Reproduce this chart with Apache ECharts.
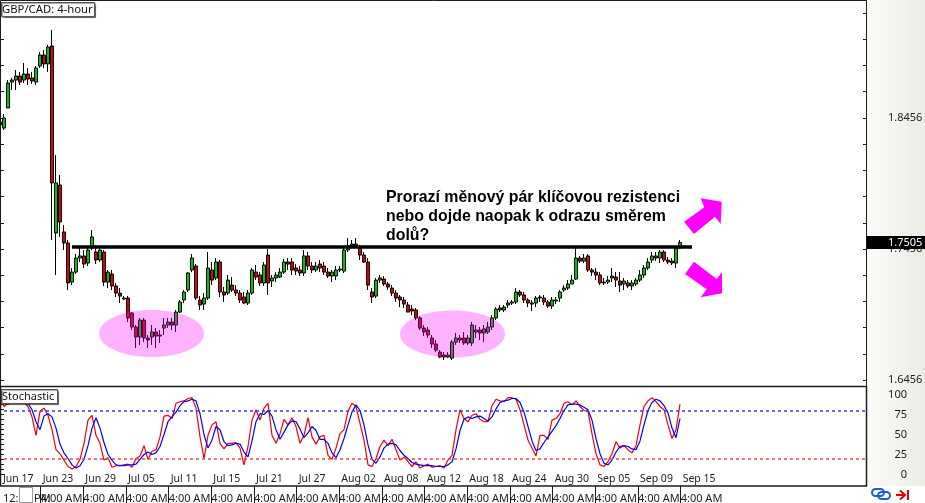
<!DOCTYPE html>
<html><head><meta charset="utf-8">
<style>html,body{margin:0;padding:0;background:#fff}#c{width:925px;height:503px}</style>
<script src="https://cdn.jsdelivr.net/npm/echarts@6/dist/echarts.min.js"></script>
</head><body><div id="c"></div>
<script>
const openP=[1.8402,1.8379,1.8532,1.8730,1.8745,1.8776,1.8745,1.8791,1.8761,1.8730,1.8852,1.8936,1.8868,1.9005,1.7578,1.7944,1.7586,1.7502,1.7204,1.7280,1.7387,1.7403,1.7349,1.7464,1.7433,1.7372,1.7433,1.7204,1.7265,1.7174,1.7120,1.7082,1.7082,1.6968,1.6861,1.6785,1.6914,1.6777,1.6785,1.6823,1.6792,1.6853,1.6876,1.6899,1.6876,1.6975,1.7067,1.7143,1.7296,1.7326,1.7067,1.7036,1.7082,1.7296,1.7235,1.7357,1.7128,1.7120,
1.7181,1.7143,1.7120,1.7090,1.7044,1.7120,1.7280,1.7258,1.7197,1.7410,1.7212,1.7235,1.7242,1.7280,1.7357,1.7357,1.7311,1.7296,1.7273,1.7403,1.7326,1.7296,1.7341,1.7326,1.7280,1.7250,1.7250,1.7296,1.7288,1.7448,1.7479,1.7494,1.7471,1.7410,1.7357,1.7128,1.7097,1.7219,1.7227,1.7189,1.7158,1.7120,1.7090,1.7067,1.7029,1.6998,1.6991,1.6930,1.6853,1.6838,1.6777,1.6731,1.6670,1.6647,1.6632,1.6624,1.6746,1.6777,1.6777,1.6739,1.6739,1.6823,1.6838,1.6815,1.6823,1.6861,1.6930,1.7006,1.6991,1.7029,1.7044,1.7052,1.7128,1.7105,1.7067,1.7044,1.7044,1.7082,1.7082,1.7052,1.7021,1.7059,1.7082,1.7143,1.7158,1.7189,1.7227,1.7387,1.7364,1.7403,1.7296,1.7280,1.7258,1.7197,1.7204,1.7235,1.7242,1.7212,1.7189,1.7197,1.7174,1.7189,1.7219,1.7258,1.7311,1.7372,1.7403,1.7387,1.7433,1.7372,1.7364,1.7349,1.7464];
const closeP=[1.8425,1.8456,1.8722,1.8745,1.8776,1.8730,1.8791,1.8753,1.8738,1.8837,1.8936,1.8868,1.8997,1.7960,1.7960,1.7662,1.7502,1.7197,1.7280,1.7387,1.7403,1.7341,1.7448,1.7548,1.7372,1.7448,1.7204,1.7280,1.7174,1.7120,1.7097,1.7075,1.6930,1.6861,1.6785,1.6914,1.6777,1.6762,1.6823,1.6792,1.6800,1.6876,1.6899,1.6876,1.6975,1.7052,1.7128,1.7273,1.7387,1.7082,1.7029,1.7082,1.7311,1.7219,1.7357,1.7128,1.7105,1.7219,
1.7143,1.7120,1.7067,1.7044,1.7120,1.7296,1.7242,1.7197,1.7334,1.7197,1.7235,1.7258,1.7280,1.7357,1.7341,1.7296,1.7288,1.7273,1.7403,1.7326,1.7296,1.7326,1.7311,1.7280,1.7250,1.7280,1.7296,1.7303,1.7448,1.7479,1.7494,1.7471,1.7410,1.7357,1.7181,1.7090,1.7219,1.7235,1.7189,1.7166,1.7120,1.7082,1.7067,1.7036,1.6975,1.6983,1.6930,1.6853,1.6823,1.6800,1.6731,1.6685,1.6632,1.6632,1.6647,1.6746,1.6777,1.6762,1.6739,1.6777,1.6876,1.6838,1.6815,1.6846,1.6861,1.6930,1.6998,1.6991,1.7013,1.7044,1.7052,1.7128,1.7105,1.7067,1.7044,1.7036,1.7082,1.7090,1.7052,1.7021,1.7067,1.7067,1.7128,1.7158,1.7189,1.7219,1.7387,1.7364,1.7387,1.7296,1.7280,1.7258,1.7197,1.7204,1.7219,1.7250,1.7219,1.7181,1.7212,1.7174,1.7197,1.7219,1.7258,1.7311,1.7357,1.7403,1.7387,1.7433,1.7372,1.7357,1.7349,1.7464,1.7505];
const highP=[1.8456,1.8486,1.8745,1.8761,1.8822,1.8807,1.8875,1.8837,1.8807,1.8852,1.8959,1.8974,1.9013,1.9127,1.8173,1.8021,1.7639,1.7525,1.7311,1.7418,1.7471,1.7448,1.7479,1.7601,1.7487,1.7479,1.7448,1.7296,1.7296,1.7197,1.7158,1.7097,1.7097,1.6975,1.6876,1.6930,1.6930,1.6800,1.6876,1.6853,1.6838,1.6930,1.6930,1.6930,1.6991,1.7067,1.7143,1.7280,1.7418,1.7341,1.7097,1.7120,1.7433,1.7357,1.7387,1.7372,1.7166,1.7258,
1.7242,1.7181,1.7143,1.7128,1.7143,1.7311,1.7334,1.7280,1.7357,1.7456,1.7258,1.7280,1.7311,1.7380,1.7387,1.7387,1.7341,1.7326,1.7448,1.7433,1.7357,1.7357,1.7372,1.7357,1.7311,1.7296,1.7326,1.7326,1.7471,1.7540,1.7525,1.7540,1.7487,1.7433,1.7387,1.7158,1.7235,1.7258,1.7250,1.7204,1.7181,1.7143,1.7105,1.7090,1.7052,1.7029,1.7006,1.6945,1.6876,1.6861,1.6800,1.6762,1.6685,1.6670,1.6670,1.6762,1.6815,1.6800,1.6823,1.6800,1.6899,1.6876,1.6861,1.6876,1.6899,1.6952,1.7013,1.7029,1.7029,1.7067,1.7067,1.7158,1.7143,1.7128,1.7082,1.7067,1.7097,1.7105,1.7105,1.7067,1.7090,1.7090,1.7143,1.7181,1.7219,1.7258,1.7464,1.7403,1.7418,1.7418,1.7311,1.7311,1.7280,1.7235,1.7250,1.7311,1.7280,1.7280,1.7235,1.7219,1.7219,1.7235,1.7296,1.7334,1.7387,1.7433,1.7433,1.7448,1.7448,1.7395,1.7387,1.7479,1.7525];
const lowP=[1.8364,1.8364,1.8532,1.8669,1.8669,1.8707,1.8722,1.8707,1.8715,1.8707,1.8837,1.8837,1.8807,1.7525,1.7258,1.7548,1.7448,1.7143,1.7181,1.7265,1.7357,1.7311,1.7326,1.7448,1.7341,1.7357,1.7174,1.7158,1.7143,1.7090,1.7044,1.7067,1.6899,1.6838,1.6701,1.6724,1.6746,1.6701,1.6724,1.6701,1.6739,1.6800,1.6853,1.6838,1.6823,1.6968,1.7044,1.7128,1.7280,1.7067,1.6991,1.6991,1.7067,1.7181,1.7219,1.7090,1.7052,1.7105,
1.7128,1.7097,1.7044,1.7036,1.7029,1.7105,1.7219,1.7174,1.7174,1.7105,1.7166,1.7204,1.7235,1.7265,1.7296,1.7258,1.7258,1.7250,1.7250,1.7296,1.7273,1.7280,1.7280,1.7258,1.7235,1.7204,1.7219,1.7280,1.7273,1.7433,1.7464,1.7464,1.7372,1.7349,1.7143,1.7044,1.7082,1.7197,1.7174,1.7143,1.7097,1.7052,1.7013,1.7006,1.6975,1.6952,1.6914,1.6838,1.6792,1.6777,1.6701,1.6670,1.6624,1.6609,1.6624,1.6609,1.6724,1.6739,1.6724,1.6724,1.6716,1.6777,1.6762,1.6746,1.6807,1.6838,1.6914,1.6975,1.6975,1.7006,1.7029,1.7036,1.7090,1.7044,1.7013,1.6983,1.7013,1.7052,1.7029,1.7006,1.6998,1.7036,1.7052,1.7128,1.7143,1.7189,1.7219,1.7349,1.7349,1.7280,1.7250,1.7219,1.7181,1.7181,1.7189,1.7204,1.7166,1.7128,1.7143,1.7158,1.7143,1.7174,1.7204,1.7235,1.7296,1.7349,1.7364,1.7349,1.7357,1.7341,1.7334,1.7311,1.7456];
const stochMain=[93,85,89,93,94,93,90,85,72,49,79,83,74,56,31,26,18,10,7,10,19,39,68,74,49,39,18,21,9,11,11,12,13,9,20,23,36,19,29,31,47,73,74,70,89,91,92,95,96,83,47,20,49,62,66,39,32,39,
39,40,33,12,35,68,81,68,83,89,49,39,51,69,62,71,60,39,49,71,47,38,47,49,24,19,33,51,56,79,89,85,64,43,12,10,20,35,43,36,44,31,18,22,16,10,16,8,11,13,9,10,11,8,18,24,56,81,70,66,74,76,69,66,66,86,94,92,91,96,96,94,81,62,43,33,23,49,49,44,68,70,76,89,91,87,92,85,80,79,51,26,12,10,16,26,41,33,36,31,27,36,62,85,92,96,91,85,81,62,45,56,88];
const stochSignal=[93,92,88,90,93,93,92,89,81,66,56,73,76,72,58,38,27,20,12,8,11,19,36,58,71,58,40,25,18,12,11,11,12,12,13,19,25,28,25,27,35,50,66,72,78,86,91,92,94,92,76,50,33,43,60,56,41,36,
37,39,38,28,22,42,66,76,75,80,73,56,44,53,62,67,66,57,46,52,60,55,44,44,39,27,21,31,45,62,78,87,80,62,37,19,14,22,33,38,39,37,30,24,20,15,13,12,11,11,11,10,10,10,12,16,32,55,69,72,70,72,73,70,67,72,82,90,92,93,95,95,90,78,60,42,30,32,40,47,54,61,70,80,87,88,88,87,84,81,68,45,26,14,12,18,28,35,36,35,32,31,42,62,80,90,94,92,86,77,58,46,70];
const dateLabels=['Jun 17','Jun 23','Jun 29','Jul 05','Jul 11','Jul 15','Jul 21','Jul 27','Aug 02','Aug 08','Aug 12','Aug 18','Aug 24','Aug 30','Sep 05','Sep 09','Sep 15'];
const firstTime='12:00 PM', laterTime='4:00 AM';
const priceLabels=[1.6456,1.7456,1.8456];
const priceTicks=[1.6456,1.6656,1.6856,1.7056,1.7256,1.7456,1.7656,1.7856,1.8056,1.8256,1.8456,1.8656,1.8856,1.9056,1.9256];
const stochLabels=[0,25,50,75,100];
const stochTicks=[0,6.25,12.5,18.75,25,31.25,37.5,43.75,50,56.25,62.5,68.75,75,81.25,87.5,93.75,100];
const lastPrice=[1.7505];
const resistance=1.7471, resistanceFrom=18, resistanceTo=173;
const overbought=80, oversold=20;
const headline='Prorazí měnový pár klíčovou rezistenci\nnebo dojde naopak k odrazu směrem\ndolů?';

const slotCount=217;
const cats=Array.from({length:slotCount},(_,i)=>String(i));
const candles=openP.map((o,i)=>[o,closeP[i],lowP[i],highP[i]]);
const FONT='"Noto Sans",sans-serif';
const INK='#1c1c1c';
const step=32/3;
const marks=dateLabels.map((_,k)=>k*step);
const dateMarks=marks.map((v,k)=>k===0?0.75:v);
const G={left:-2,width:868,outerBoundsMode:'none'};
const priceMin=1.6411,priceMax=1.9348,stochMin=-14.375,stochMax=109.375;

const chart=echarts.init(document.getElementById('c'),null,{renderer:'canvas'});
chart.setOption({
 animation:false,
 backgroundColor:'#fff',
 title:[
  {text:'GBP/CAD: 4-hour',left:2,top:3,padding:0,textStyle:{fontFamily:FONT,fontSize:11.3,fontWeight:'normal',color:'#111',lineHeight:13}},
  {text:'Stochastic',left:2,top:390,padding:0,textStyle:{fontFamily:FONT,fontSize:11,fontWeight:'normal',color:'#111',lineHeight:13}}
 ],
 grid:[
  {...G,top:1,height:385},
  {...G,top:387,height:99}
 ],
 xAxis:[
  {type:'category',gridIndex:0,data:cats,boundaryGap:true,axisLine:{show:false},axisTick:{show:false},axisLabel:{show:false},splitLine:{show:false}},
  {type:'category',gridIndex:1,data:cats,boundaryGap:true,axisLine:{show:false},axisTick:{show:false},axisLabel:{show:false},splitLine:{show:false}},
  {type:'value',gridIndex:1,position:'bottom',min:0,max:slotCount,splitLine:{show:false},axisLine:{show:false},axisTick:{show:false},
   axisLabel:{customValues:dateMarks,inside:true,margin:0,align:'left',verticalAlign:'bottom',padding:[0,0,0,2],fontFamily:FONT,fontSize:10.5,color:INK,lineHeight:13,
    formatter:v=>dateLabels[Math.round(v/step)]||''}},
  {type:'value',gridIndex:1,position:'bottom',min:0,max:slotCount,splitLine:{show:false},axisLine:{show:false},
   axisTick:{show:true,length:17,customValues:marks.slice(1),lineStyle:{color:INK,width:1}},
   axisLabel:{customValues:marks.slice(1),margin:5,align:'left',fontFamily:FONT,fontSize:11,color:INK,lineHeight:15,formatter:()=>laterTime}},
  {type:'value',gridIndex:1,position:'bottom',min:0,max:slotCount,splitLine:{show:false},axisLine:{show:false},axisTick:{show:false},
   axisLabel:{customValues:[0],margin:5,align:'left',padding:[0,0,0,5],fontFamily:FONT,fontSize:11,color:INK,lineHeight:15,formatter:()=>firstTime}}
 ],
 yAxis:[
  {type:'value',gridIndex:0,position:'right',min:priceMin,max:priceMax,splitLine:{show:false},axisLine:{show:true,lineStyle:{color:INK}},
   axisTick:{show:true,inside:true,length:3,customValues:priceTicks,lineStyle:{color:INK}},
   axisLabel:{customValues:priceLabels,formatter:v=>v.toFixed(4),margin:22,padding:[2,0,0,0],fontFamily:FONT,fontSize:11,color:INK}},
  {type:'value',gridIndex:0,position:'left',min:priceMin,max:priceMax,splitLine:{show:false},axisLine:{show:false},
   axisTick:{show:true,inside:true,length:6,customValues:priceTicks,lineStyle:{color:INK}},axisLabel:{show:false}},
  {type:'value',gridIndex:0,position:'right',min:priceMin,max:priceMax,z:6,splitLine:{show:false},axisLine:{show:false},axisTick:{show:false},
   axisLabel:{customValues:lastPrice,formatter:v=>v.toFixed(4),margin:1,align:'left',width:37,height:13,lineHeight:13,padding:[0,0,0,21],backgroundColor:'#000',color:'#fff',fontFamily:FONT,fontSize:11}},
  {type:'value',gridIndex:1,position:'right',min:stochMin,max:stochMax,splitLine:{show:false},axisLine:{show:true,lineStyle:{color:INK}},
   axisTick:{show:true,inside:true,length:5,customValues:stochTicks,lineStyle:{color:INK}},
   axisLabel:{customValues:stochLabels,align:'right',margin:41,padding:[2,0,0,0],fontFamily:FONT,fontSize:11,color:INK}},
  {type:'value',gridIndex:1,position:'left',min:stochMin,max:stochMax,splitLine:{show:false},axisLine:{show:false},
   axisTick:{show:true,inside:true,length:6,customValues:stochTicks,lineStyle:{color:INK}},axisLabel:{show:false}}
 ],
 series:[
  {name:'GBP/CAD',type:'candlestick',xAxisIndex:0,yAxisIndex:0,data:candles,barWidth:3.4,
   itemStyle:{color:'#00c800',color0:'#e00000',borderColor:'#000',borderColor0:'#000',borderWidth:1},
   markLine:{silent:true,symbol:'none',animation:false,label:{show:false},lineStyle:{color:'#000',width:3.5,type:'solid'},
    data:[[{coord:[String(resistanceFrom),resistance]},{coord:[String(resistanceTo),resistance]}]]}},
  {name:'%K',type:'line',xAxisIndex:1,yAxisIndex:3,data:stochMain,symbol:'none',lineStyle:{color:'#f00000',width:1.2},
   markLine:{silent:true,symbol:'none',animation:false,label:{show:false},data:[
    {yAxis:overbought,lineStyle:{color:'#3a3ad8',width:1.5,type:[3,3]}},
    {yAxis:oversold,lineStyle:{color:'#e24a4a',width:1.5,type:[3,3]}}]}},
  {name:'%D',type:'line',xAxisIndex:1,yAxisIndex:3,data:stochSignal,symbol:'none',lineStyle:{color:'#0000f0',width:1.2}}
 ],
 graphic:{elements:[
  {type:'rect',z:-1,shape:{x:867,y:0,width:58,height:486},style:{fill:{type:'linear',x:0,y:0,x2:1,y2:0,colorStops:[{offset:0,color:'#fbfbf9'},{offset:1,color:'#ecece6'}]}}},
  {type:'rect',z:5,shape:{x:1.5,y:2.5,width:93,height:14},style:{fill:'#fff',stroke:'#555',lineWidth:1,shadowColor:'rgba(0,0,0,.4)',shadowOffsetX:1,shadowOffsetY:1,shadowBlur:1}},
  {type:'rect',z:5,shape:{x:1.5,y:389.5,width:56,height:14},style:{fill:'#fff',stroke:'#555',lineWidth:1,shadowColor:'rgba(0,0,0,.4)',shadowOffsetX:1,shadowOffsetY:1,shadowBlur:1}},
  {type:'rect',z:8,shape:{x:0.5,y:0.5,width:866,height:386},style:{fill:'transparent',stroke:INK,lineWidth:1}},
  {type:'rect',z:8,shape:{x:0.5,y:386.5,width:866,height:99.5},style:{fill:'transparent',stroke:INK,lineWidth:1.5}},
  {type:'ellipse',z:9,shape:{cx:151.5,cy:333.5,rx:52.5,ry:23.5},style:{fill:'rgba(255,0,255,.3)'}},
  {type:'ellipse',z:9,shape:{cx:452.5,cy:334,rx:52.5,ry:23.5},style:{fill:'rgba(255,0,255,.3)'}},
  {type:'polygon',z:9,shape:{points:[[684,221.7],[704.3,207.3],[700.7,198.3],[721.7,201.7],[720.7,224],[715,216.7],[694,234]]},style:{fill:'#ff00ff'}},
  {type:'polygon',z:9,shape:{points:[[685,274],[694,261.7],[716.7,279],[722,272.3],[722,293.3],[700.7,297.3],[706.7,289.3]]},style:{fill:'#ff00ff'}},
  {type:'text',z:10,x:386,y:188.5,style:{text:headline,fontFamily:'"Liberation Sans",Arial,sans-serif',fontWeight:'bold',fontSize:15.9,lineHeight:19,fill:'#000'}},
  {type:'rect',z:10,shape:{x:19.5,y:487.5,width:13,height:15},style:{fill:'#fff',stroke:'#999',lineWidth:1}},
  {type:'rect',z:10,shape:{x:872,y:489,width:12,height:7,r:3.5},style:{fill:'transparent',stroke:'#1a5fd0',lineWidth:2}},
  {type:'rect',z:10,shape:{x:878,y:492,width:12,height:7,r:3.5},style:{fill:'transparent',stroke:'#1a5fd0',lineWidth:2}},
  {type:'polyline',z:10,shape:{points:[[896,495],[905,495]]},style:{stroke:'#e00000',lineWidth:2,fill:null}},
  {type:'polyline',z:10,shape:{points:[[900,490.5],[905,495],[900,499.5]]},style:{stroke:'#e00000',lineWidth:2,fill:null}},
  {type:'polyline',z:10,shape:{points:[[908,490],[908,500]]},style:{stroke:'#e00000',lineWidth:2,fill:null}}
 ]}
});
</script></body></html>
